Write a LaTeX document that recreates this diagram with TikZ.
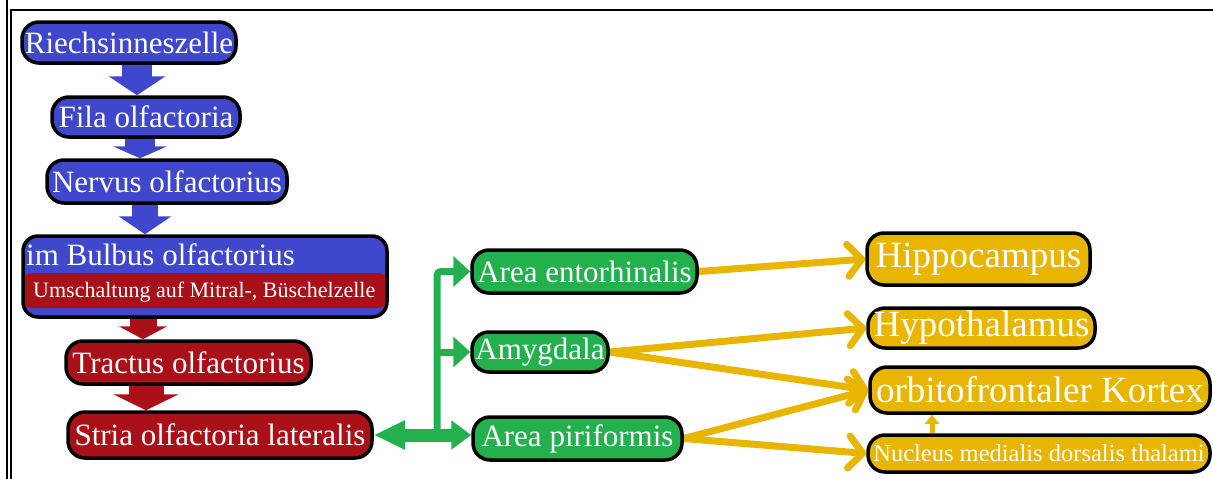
\documentclass[tikz,border=0pt]{standalone}
\usepackage{fontspec}
\setmainfont{Liberation Serif}
\usetikzlibrary{arrows.meta,calc,backgrounds}
\definecolor{nblue}{RGB}{63,72,204}
\definecolor{nred}{RGB}{170,16,24}
\definecolor{ngreen}{RGB}{34,177,76}
\definecolor{ngold}{RGB}{232,181,0}
\begin{document}
\begin{tikzpicture}[x=1pt,y=-1pt,
  box/.style={draw=black, line width=3.5pt, rounded corners=17pt, text=white, inner sep=0pt,
    font=\fontsize{31}{36}\selectfont},
  bigtext/.style={font=\fontsize{37}{42}\selectfont},
  smalltext/.style={font=\fontsize{24.5}{28}\selectfont},
  txt/.style={text=white, inner sep=0pt, anchor=base west},
  gline/.style={draw=ngreen, line width=7pt},
  ghead/.style={-{Triangle[length=17pt,width=30pt]}},
  garrow/.style={draw=ngold, line width=7pt, line cap=round,
    -{Straight Barb[length=14pt,width=32pt,line cap=round,line join=round]}},
  frameline/.style={draw=black}
]
\useasboundingbox (0,0) rectangle (1213,479);
% frame
\draw[frameline, line width=2.2pt] (7,0) -- (7,479);
\draw[frameline, line width=1.2pt] (11,479) -- (11,10) -- (1213,10);

% left column
\node[box, fill=nblue, minimum width=214pt, minimum height=41pt] (riech) at (129,42.5) {Riechsinneszelle};
\node[box, fill=nblue, minimum width=188pt, minimum height=40pt] (fila) at (146,117) {Fila olfactoria};
\node[box, fill=nblue, minimum width=240pt, minimum height=43pt] (nervus) at (167,181.5) {Nervus olfactorius};
\node[box, rounded corners=15pt, fill=nblue, minimum width=364pt, minimum height=81pt,
  path picture={\fill[nred] ($(path picture bounding box.north west)+(-5,37)$) rectangle ($(path picture bounding box.south east)+(5,-9)$);}]
  (bulbus) at (205,276.5) {};
\node[txt, font=\fontsize{31}{36}\selectfont] (bulbusA) at (26,265) {im Bulbus olfactorius};
\node[txt, font=\fontsize{22}{26}\selectfont] (bulbusB) at (33,297) {Umschaltung auf Mitral-, Büschelzelle};
\node[box, fill=nred, minimum width=245pt, minimum height=43pt] (tractus) at (188.5,362.5) {Tractus olfactorius};
\node[box, fill=nred, minimum width=304pt, minimum height=46pt] (stria) at (220,435) {Stria olfactoria lateralis};

% green column
\node[box, fill=ngreen, minimum width=225pt, minimum height=43pt] (entorh) at (584.5,271.5) {Area entorhinalis};
\node[box, fill=ngreen, minimum width=136pt, minimum height=40pt] (amyg) at (540,352) {Amygdala};
\node[box, fill=ngreen, minimum width=209pt, minimum height=43pt] (piri) at (577.5,438.5) {Area piriformis};

% gold column
\node[box, bigtext, fill=ngold, minimum width=223pt, minimum height=52pt] (hippo) at (978.5,259) {Hippocampus};
\node[box, bigtext, fill=ngold, minimum width=227pt, minimum height=40pt] (hypo) at (981.5,328) {Hypothalamus};
\node[box, bigtext, fill=ngold, minimum width=340pt, minimum height=46pt] (orbito) at (1040,390) {orbitofrontaler Kortex};
\node[box, smalltext, fill=ngold, minimum width=342pt, minimum height=37pt] (nucleus) at (1039,453.5) {Nucleus medialis dorsalis thalami};

% helper coordinates
\coordinate (xa) at (137,0);
\coordinate (xb) at (140,0);
\coordinate (xc) at (145,0);
\coordinate (xd) at (143,0);
\coordinate (xe) at (146,0);
\coordinate (xg) at (437,0);
\coordinate (xn) at (932,0);
\coordinate (jn) at (xg |- stria.east);

\begin{pgfonlayer}{background}
% block arrows
\draw[nblue, line width=30pt, -{Triangle[length=19pt,width=56pt]}] (xa |- riech.south) -- (xa |- fila.north);
\draw[nblue, line width=30pt, -{Triangle[length=12pt,width=54pt]}] (xb |- fila.south) -- (xb |- nervus.north);
\draw[nblue, line width=26pt, -{Triangle[length=18pt,width=52pt]}] (xc |- nervus.south) -- (xc |- bulbus.north);
\draw[nred, line width=27pt, -{Triangle[length=13pt,width=48pt]}] (xd |- bulbus.south) -- (xd |- tractus.north);
\draw[nred, line width=35pt, -{Triangle[length=16pt,width=65pt]}] (xe |- tractus.south) -- (xe |- stria.north);

% green connectors
\draw[gline, ghead, rounded corners=4pt] (jn) |- (entorh.west);
\draw[gline, ghead] (xg |- amyg.west) -- (amyg.west);
\draw[draw=ngreen, line width=13pt, {Triangle[length=31pt,width=27pt]}-{Triangle[length=20pt,width=28pt]}]
  (stria.east) -- (stria.east -| piri.west);

% gold connectors
\draw[garrow] (entorh.east) -- (hippo.west);
\draw[garrow] (amyg.east) -- (hypo.west);
\draw[garrow] (amyg.east) -- (orbito.west);
\draw[garrow] (piri.east) -- (orbito.west);
\draw[garrow] (piri.east) -- (nucleus.west);
\draw[draw=ngold, line width=5pt, -{Triangle[length=9pt,width=14pt]}] (xn |- nucleus.north) -- (xn |- orbito.south);
\end{pgfonlayer}
\end{tikzpicture}
\end{document}
